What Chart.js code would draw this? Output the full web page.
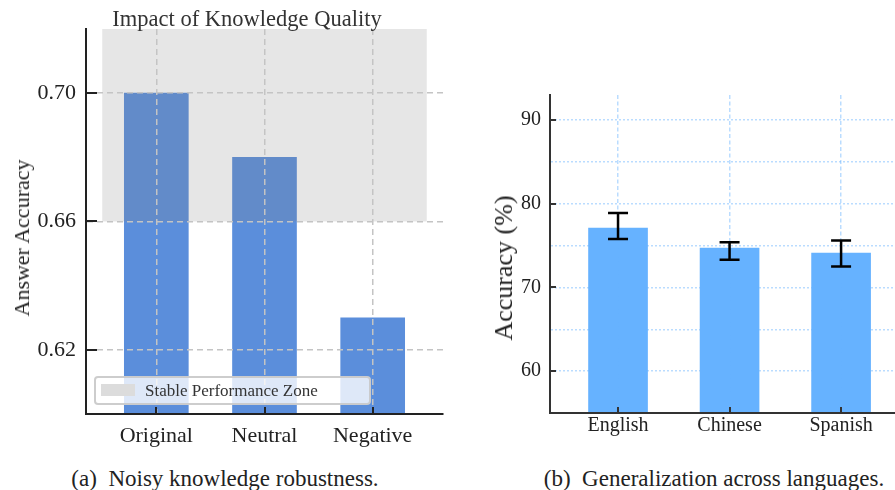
<!DOCTYPE html>
<html>
<head>
<meta charset="utf-8">
<script src="https://cdn.jsdelivr.net/npm/chart.js@4"></script>
<style>
  html, body { margin: 0; padding: 0; background: #fff; }
  body { width: 895px; height: 490px; overflow: hidden; position: relative; font-family: 'Liberation Serif', 'Times New Roman', serif; }
  canvas { position: absolute; }
  .t { position: absolute; white-space: nowrap; line-height: 1; transform: translate(-50%, -50%); }
  .rot { transform: translate(-50%, -50%) rotate(-90deg); }
  #legA { position: absolute; left: 94px; top: 376px; width: 277px; height: 29px; box-sizing: border-box;
          border: 2px solid rgba(200,200,200,0.9); border-radius: 4px; background: rgba(255,255,255,0.8); }
  #legA .patch { position: absolute; left: 5px; top: 6px; width: 34px; height: 12px; background: #dcdcdc; }
  #legA .lab { position: absolute; left: 49px; top: 4px; font-size: 17px; color: #333; line-height: 1; }
</style>
</head>
<body>
<canvas id="cA" width="445" height="460" style="left:0;top:0;width:445px;height:460px"></canvas>
<canvas id="cB" width="430" height="460" style="left:480px;top:0;width:430px;height:460px"></canvas>

<div class="t" style="left:247px;top:19px;font-size:22.5px;color:#333">Impact of Knowledge Quality</div>
<div class="t rot" style="left:22px;top:238px;font-size:22px;color:#222">Answer Accuracy</div>
<div id="legA"><div class="patch"></div><div class="lab">Stable Performance Zone</div></div>
<div class="t" style="left:225px;top:478px;font-size:23px;color:#222">(a)&nbsp; Noisy knowledge robustness.</div>

<div class="t rot" style="left:504px;top:268px;font-size:26px;color:#222">Accuracy (%)</div>
<div class="t" style="left:714px;top:478px;font-size:23px;color:#222">(b)&nbsp; Generalization across languages.</div>

<script>
// ---- Data: chart (a) ----
const catsA = ['Original', 'Neutral', 'Negative'];
const accA = [0.70, 0.68, 0.63];
const yTicksA = [0.62, 0.66, 0.70];
const zoneA = [0.66, 0.72];          // stable performance zone (y range)

// ---- Data: chart (b) ----
const catsB = ['English', 'Chinese', 'Spanish'];
const accB = [77.1, 74.7, 74.1];
const errHighB = [78.9, 75.4, 75.6];
const errLowB = [75.8, 73.3, 72.5];
const yMajorB = [60, 70, 80, 90];
const yMinorB = [65, 75, 85];

const SERIF = "'Liberation Serif', 'Times New Roman', serif";

function tickMarks(opts) {
  return {
    id: 'tickMarks',
    afterDraw(chart) {
      const {ctx, chartArea: a, scales: {x, y}} = chart;
      ctx.save();
      ctx.strokeStyle = opts.color;
      ctx.lineWidth = 2;
      ctx.beginPath();
      opts.yTicks.forEach(v => {
        const py = Math.round(y.getPixelForValue(v));
        ctx.moveTo(a.left, py); ctx.lineTo(a.left + opts.yLen, py);
      });
      opts.xTicks.forEach(v => {
        const px = Math.round(x.getPixelForValue(v));
        ctx.moveTo(px, a.bottom); ctx.lineTo(px, a.bottom - opts.xLen);
      });
      ctx.stroke();
      ctx.restore();
    }
  };
}

// ---------- Chart (a) ----------
const zonePlugin = {
  id: 'zone',
  afterDatasetsDraw(chart) {
    const {ctx, scales: {x, y}} = chart;
    const x0 = x.getPixelForValue(-0.5), x1 = x.getPixelForValue(catsA.length - 0.5);
    const y0 = y.getPixelForValue(zoneA[1]), y1 = y.getPixelForValue(zoneA[0]);
    ctx.save();
    ctx.fillStyle = 'rgba(130,130,130,0.2)';
    ctx.fillRect(x0, y0, x1 - x0, y1 - y0);
    ctx.restore();
  }
};

new Chart(document.getElementById('cA'), {
  type: 'bar',
  data: {
    datasets: [{
      label: 'Answer Accuracy',
      data: accA.map((v, i) => ({x: i, y: v})),
      backgroundColor: '#5B8EDB',
      borderWidth: 0,
      barThickness: 64,
      clip: 0
    }]
  },
  options: {
    responsive: false, animation: false, devicePixelRatio: 1,
    layout: {padding: {left: 0, top: 29, right: 2, bottom: 0}},
    plugins: {legend: {display: false}, tooltip: {enabled: false}},
    scales: {
      x: {
        type: 'linear', min: -0.65, max: 2.65, offset: false,
        afterBuildTicks: s => { s.ticks = catsA.map((c, i) => ({value: i})); },
        afterFit: s => { s.height = 46; },
        ticks: {callback: v => catsA[v], font: {family: SERIF, size: 22}, color: '#222', padding: 9, autoSkip: false, maxRotation: 0},
        grid: {color: '#c4c4c4', lineWidth: 1.5, drawTicks: false, offset: false, z: 1},
        border: {display: true, color: '#222', width: 2, dash: [6, 4], z: 2}
      },
      y: {
        min: 0.60, max: 0.72,
        afterBuildTicks: s => { s.ticks = yTicksA.map(v => ({value: v})); },
        afterFit: s => { s.width = 86; },
        ticks: {callback: v => v.toFixed(2), font: {family: SERIF, size: 22}, color: '#222', padding: 10},
        grid: {color: '#c4c4c4', lineWidth: 1.5, drawTicks: false, z: 1},
        border: {display: true, color: '#222', width: 2, dash: [6, 4], z: 2}
      }
    }
  },
  plugins: [zonePlugin, tickMarks({color: '#222', yTicks: yTicksA, xTicks: [0, 1, 2], yLen: 11, xLen: 7})]
});

// ---------- Chart (b) ----------
const errPlugin = {
  id: 'errbars',
  afterDraw(chart) {
    const {ctx, scales: {x, y}} = chart;
    ctx.save();
    ctx.strokeStyle = '#000';
    ctx.lineWidth = 2.5;
    ctx.beginPath();
    accB.forEach((v, i) => {
      const px = x.getPixelForValue(i);
      const hi = y.getPixelForValue(errHighB[i]);
      const lo = y.getPixelForValue(errLowB[i]);
      ctx.moveTo(px, hi); ctx.lineTo(px, lo);
      ctx.moveTo(px - 10, hi); ctx.lineTo(px + 10, hi);
      ctx.moveTo(px - 10, lo); ctx.lineTo(px + 10, lo);
    });
    ctx.stroke();
    ctx.restore();
  }
};

new Chart(document.getElementById('cB'), {
  type: 'bar',
  data: {
    datasets: [{
      label: 'Accuracy (%)',
      data: accB.map((v, i) => ({x: i, y: v})),
      backgroundColor: '#66B2FF',
      borderWidth: 0,
      barThickness: 59,
      clip: 0
    }]
  },
  options: {
    responsive: false, animation: false, devicePixelRatio: 1,
    layout: {padding: {left: 0, top: 95, right: 2, bottom: 0}},
    plugins: {legend: {display: false}, tooltip: {enabled: false}},
    scales: {
      x: {
        type: 'linear', min: -0.61, max: 2.6, offset: false,
        afterBuildTicks: s => { s.ticks = catsB.map((c, i) => ({value: i})); },
        afterFit: s => { s.height = 47; },
        ticks: {callback: v => catsB[v], font: {family: SERIF, size: 20}, color: '#222', padding: 1, autoSkip: false, maxRotation: 0},
        grid: {color: 'rgba(102,178,255,0.45)', lineWidth: 1.5, drawTicks: false, offset: false, z: 1},
        border: {display: true, color: '#333', width: 2, dash: [4, 2.5], z: 2}
      },
      y: {
        min: 55, max: 93,
        afterBuildTicks: s => { s.ticks = yMajorB.concat(yMinorB).sort((a, b) => a - b).map(v => ({value: v})); },
        afterFit: s => { s.width = 70; },
        ticks: {callback: v => yMajorB.includes(v) ? String(v) : '', font: {family: SERIF, size: 20}, color: '#222', padding: 9},
        grid: {color: 'rgba(102,178,255,0.45)', lineWidth: 1.5, drawTicks: false, z: 1},
        border: {display: true, color: '#333', width: 2, dash: [2, 2], z: 2}
      }
    }
  },
  plugins: [errPlugin, tickMarks({color: '#333', yTicks: yMajorB, xTicks: [0, 1, 2], yLen: 6, xLen: 6})]
});
</script>
</body>
</html>
